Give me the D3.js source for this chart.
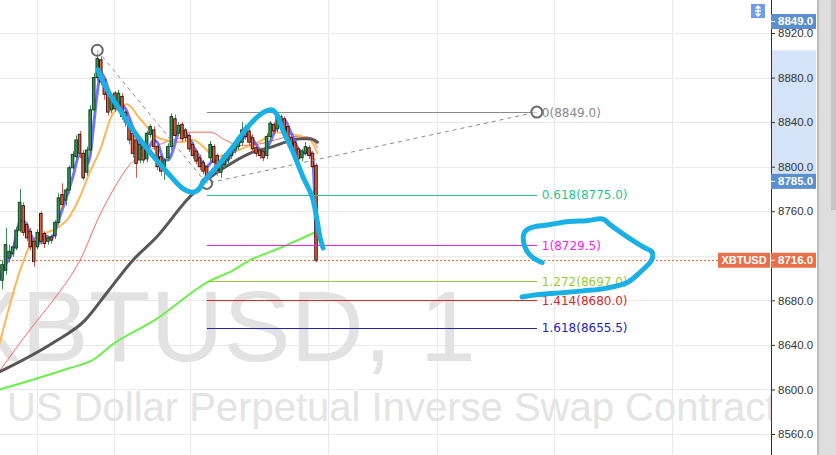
<!DOCTYPE html>
<html>
<head>
<meta charset="utf-8">
<script src="https://cdn.jsdelivr.net/npm/d3@7"></script>
<style>
  html, body { margin: 0; padding: 0; background: #fff; overflow: hidden; }
  svg { display: block; }
</style>
</head>
<body>
<svg id="chart" width="836" height="455"></svg>
<script>
// ---- XBTUSD 1-minute candles: [open, high, low, close] ----
const ohlc = [
  [8698,8716,8690,8712],[8707,8745,8703,8730],[8718,8730,8714,8724],[8722,8732,8719,8728],
  [8727,8746,8725,8743],[8743,8780,8741,8768],[8765,8768,8738,8741],[8748,8750,8733,8736],
  [8742,8745,8725,8728],[8733,8736,8710,8715],[8728,8744,8726,8741],[8758,8760,8730,8733],
  [8740,8742,8727,8731],[8733,8738,8730,8736],[8737,8739,8731,8734],[8738,8752,8735,8750],
  [8750,8776,8748,8772],[8775,8785,8762,8766],[8770,8781,8765,8779],[8779,8801,8776,8799],
  [8799,8814,8797,8811],[8809,8828,8806,8824],[8829,8832,8808,8812],[8812,8815,8788,8790],
  [8795,8818,8792,8815],[8815,8855,8812,8851],[8851,8884,8849,8880],[8880,8904.5,8877,8897],
  [8896,8899,8873,8876],[8878,8880,8860,8865],[8869,8871,8846,8849],[8851,8866,8848,8862],
  [8866,8868,8849,8852],[8854,8869,8851,8866],[8863,8866,8842,8845],[8849,8852,8836,8840],
  [8840,8843,8820,8824],[8830,8833,8808,8812],[8824,8826,8790,8803],[8806,8823,8803,8820],
  [8818,8820,8803,8806],[8807,8832,8804,8830],[8829,8838,8826,8836],[8833,8836,8815,8818],
  [8818,8820,8797,8800],[8809,8812,8792,8796],[8798,8808,8788,8806],[8808,8821,8805,8818],
  [8818,8848,8815,8845],[8843,8847,8825,8828],[8830,8840,8827,8837],[8838,8840,8822,8825],
  [8833,8835,8823,8826],[8828,8830,8813,8816],[8820,8822,8807,8810],[8814,8816,8802,8805],
  [8808,8811,8797,8800],[8804,8806,8793,8796],[8800,8802,8785,8791],[8808,8823,8805,8820],
  [8818,8820,8800,8804],[8810,8812,8792,8797],[8795,8805,8790,8802],[8802,8812,8799,8810],
  [8806,8815,8803,8812],[8810,8818,8807,8816],[8815,8824,8812,8821],[8818,8828,8815,8826],
  [8822,8840,8819,8833],[8835,8838,8824,8827],[8832,8834,8819,8822],[8826,8829,8813,8816],
  [8817,8819,8809,8812],[8815,8817,8807,8810],[8814,8816,8805,8808],[8810,8830,8807,8827],
  [8827,8841,8824,8839],[8838,8840,8829,8832],[8834,8849,8831,8846],[8845,8847,8837,8840],
  [8843,8845,8829,8832],[8836,8838,8819,8822],[8826,8828,8814,8817],[8822,8824,8808,8810],
  [8816,8818,8804,8807],[8808,8816,8805,8814],[8812,8822,8810,8818],[8817,8819,8807,8810],
  [8812,8814,8798,8800],[8801,8803,8714,8716]
];

// ---- moving averages: [bar index, price] ----
const maFast = [[-0.6,8700],[1,8712],[3,8724],[5,8750],[6,8752],[8,8740],[10,8730],[12,8738],[14,8736],
  [16,8752],[18,8770],[20,8790],[22,8810],[23,8808],[24,8802],[25,8810],[26,8838],[27,8866],[28,8884],
  [29,8880],[31,8862],[33,8858],[35,8852],[37,8836],[39,8820],[41,8814],[43,8824],[44,8822],[46,8806],
  [47,8806],[49,8820],[50,8832],[52,8830],[55,8814],[58,8800],[60,8806],[62,8800],[64,8806],[66,8815],
  [68,8825],[70,8828],[72,8820],[74,8812],[76,8822],[78,8836],[80,8842],[82,8830],[84,8816],[86,8812],
  [87,8814],[88,8808],[89,8736]];
const maOrange = [[-0.6,8642],[5.7,8712],[8.8,8734],[15.6,8745],[18.4,8752],[22.1,8773],[24.9,8795],
  [27.8,8815],[31.5,8848],[35.4,8856],[39.1,8843],[44.8,8825],[50.5,8822],[54.1,8824],[60.9,8809],
  [65.5,8813],[69.4,8818],[73.9,8824],[76.8,8831],[82.5,8829],[87.3,8824],[89.4,8812]];
const maRed = [[-0.6,8617],[8.5,8656],[14.5,8680],[22.1,8716],[27.8,8757],[31.5,8779],[36.3,8802],
  [41.1,8813],[46.2,8822],[50.5,8826],[53.3,8831],[59,8831],[63.2,8824],[67.5,8819],[72.3,8820],
  [77.4,8824],[81.6,8827],[85.9,8827],[88.1,8824],[89.4,8817]];
const maGrey = [[-0.6,8616],[14.5,8642],[23.5,8662],[29.8,8687],[37.1,8716],[43.9,8737],[52.4,8770],
  [58.1,8788],[65.5,8804],[71.1,8813],[76.8,8818],[80.8,8822.5],[84.5,8825],[87.3,8825],[89.4,8822]];
const maGreen = [[-0.6,8600],[8.5,8608.5],[19,8619],[25.8,8626.5],[31.2,8640],[43.4,8662.5],
  [58.4,8696.6],[65.5,8707],[70.3,8716],[78.8,8727],[89.4,8742]];

// ---- trend-based fib extension ----
const fibPoints = [[27, 8904.5], [58, 8785.0], [151.6, 8849.0]];
const fibRatios = ["0", "0.618", "1", "1.272", "1.414", "1.618"];
const fibPrices = [8849.0, 8775.0, 8729.5, 8697.0, 8680.0, 8655.5];
const fibColors = ["#8a8a8a", "#1fc88c", "#f41ef4", "#9acd32", "#d62828", "#2424b8"];

// ---- freehand annotations: [bar index, price] ----
const strokeM = [[27.2,8887],[29.8,8869],[33.4,8851],[37.1,8833],[41.9,8813],[46.8,8795],[51,8781],
  [53.9,8777],[55.6,8779],[57,8786],[60.9,8800],[65.5,8818],[70.3,8838],[74,8848.5],[76.5,8851],
  [77.9,8847],[79.6,8833],[82.5,8813],[85.3,8791],[87.9,8773],[89.3,8752],[90.1,8737],[91,8727]];
const strokeLoop = [[153.1,8714],[150.2,8719],[148.2,8728],[148,8740.5],[149.7,8745],[155.3,8748],
  [160.1,8750.5],[165.8,8751.5],[170.4,8753],[172.3,8748],[177.2,8737],[181.7,8728],[184.2,8723.5],
  [184.2,8716.5],[180.8,8705],[177.2,8696],[171.5,8691],[164.7,8688.5],[158.2,8686.7],[151.6,8685],
  [147.4,8683]];

// ---- axes ----
const priceTicks = [8560, 8600, 8640, 8680, 8720, 8760, 8800, 8840, 8880, 8920];
const timeGridBars = [9.9, 31.7, 53.3, 92.4, 123.3, 156.5, 189.9];
const lastPrice = 8716.0;
const symbol = "XBTUSD";
const titleText = "XBTUSD, 1";
const subtitleText = "US Dollar Perpetual Inverse Swap Contract";

const W = 836, H = 455, paneW = 771;
const svg = d3.select("#chart");

const x = d3.scaleLinear().domain([0, ohlc.length - 1]).range([2, 316]);
const y = d3.scaleLinear().domain([8560, 8920]).range([434, 33]);
const step = x(1) - x(0);

svg.append("defs").append("clipPath").attr("id", "pane")
  .append("rect").attr("x", 0).attr("y", 0).attr("width", paneW).attr("height", H);

const pane = svg.append("g").attr("clip-path", "url(#pane)");

// grid
pane.append("g").selectAll("line").data(priceTicks).join("line")
  .attr("x1", 0).attr("x2", paneW)
  .attr("y1", d => Math.round(y(d)) + 0.5).attr("y2", d => Math.round(y(d)) + 0.5)
  .attr("stroke", "#e9e9e9").attr("stroke-width", 1).attr("shape-rendering", "crispEdges");
pane.append("g").selectAll("line").data(timeGridBars).join("line")
  .attr("x1", d => Math.round(x(d)) + 0.5).attr("x2", d => Math.round(x(d)) + 0.5)
  .attr("y1", 0).attr("y2", H)
  .attr("stroke", "#e9e9e9").attr("stroke-width", 1).attr("shape-rendering", "crispEdges");

// watermark
pane.append("text").text(titleText)
  .attr("x", -46).attr("y", 361)
  .attr("font-family", "Liberation Sans, Arial, sans-serif").attr("font-size", 101)
  .attr("fill", "#e2e2e2");
pane.append("text").text(subtitleText)
  .attr("x", 7).attr("y", 421)
  .attr("font-family", "Liberation Sans, Arial, sans-serif").attr("font-size", 40)
  .attr("fill", "#e4e4e4");

// last price dotted line
pane.append("line")
  .attr("x1", 0).attr("x2", paneW)
  .attr("y1", Math.round(y(lastPrice)) + 0.5).attr("y2", Math.round(y(lastPrice)) + 0.5)
  .attr("stroke", "#ef6a3e").attr("stroke-width", 1).attr("stroke-dasharray", "2,2")
  .attr("shape-rendering", "crispEdges");

// moving averages
const line = d3.line().x(d => x(d[0])).y(d => y(d[1])).curve(d3.curveMonotoneX);
function drawMA(data, color, width, opacity) {
  pane.append("path").datum(data).attr("d", line)
    .attr("fill", "none").attr("stroke", color).attr("stroke-width", width)
    .attr("stroke-opacity", opacity).attr("stroke-linejoin", "round").attr("stroke-linecap", "round");
}
drawMA(maGreen, "#6cf04a", 2, 1);
drawMA(maRed, "#ff6464", 1, 1);
drawMA(maOrange, "#ffb75a", 2, 1);
drawMA(maGrey, "#575757", 3, 1);
drawMA(maFast, "#5a5aff", 3, 0.85);

// candles
const bw = step * 0.72;
const cg = pane.append("g");
cg.selectAll("line").data(ohlc).join("line")
  .attr("x1", (d, i) => Math.round(x(i)) + 0.5).attr("x2", (d, i) => Math.round(x(i)) + 0.5)
  .attr("y1", d => y(d[1])).attr("y2", d => y(d[2]))
  .attr("stroke", d => d[3] >= d[0] ? "#3b8f52" : "#d9534f").attr("stroke-width", 1);
cg.selectAll("rect").data(ohlc).join("rect")
  .attr("x", (d, i) => x(i) - bw / 2)
  .attr("y", d => y(Math.max(d[0], d[3])))
  .attr("width", bw)
  .attr("height", d => Math.max(1, Math.abs(y(d[0]) - y(d[3]))))
  .attr("fill", d => d[3] >= d[0] ? "#2f9a5a" : "#e9623c")
  .attr("stroke", d => d[3] >= d[0] ? "#173f24" : "#3a1a12").attr("stroke-width", 1);

// fib levels
const fx1 = x(fibPoints[1][0]), fx2 = x(fibPoints[2][0]);
const fg = pane.append("g");
fg.selectAll("line").data(fibPrices).join("line")
  .attr("x1", fx1).attr("x2", fx2)
  .attr("y1", d => Math.round(y(d)) + 0.5).attr("y2", d => Math.round(y(d)) + 0.5)
  .attr("stroke", (d, i) => fibColors[i]).attr("stroke-width", 1)
  .attr("shape-rendering", "crispEdges");
fg.selectAll("text").data(fibPrices).join("text")
  .attr("x", fx2 + 5).attr("y", d => y(d) + 1)
  .attr("dominant-baseline", "middle")
  .attr("font-family", "DejaVu Sans, Verdana, sans-serif").attr("font-size", 12)
  .attr("fill", (d, i) => fibColors[i])
  .text((d, i) => `${fibRatios[i]}(${d.toFixed(1)})`);

// trend lines between the fib anchor points
pane.append("path").datum(fibPoints).attr("d", d3.line().x(d => x(d[0])).y(d => y(d[1])))
  .attr("fill", "none").attr("stroke", "#8c8c8c").attr("stroke-width", 1)
  .attr("stroke-dasharray", "4,4");
pane.append("g").selectAll("circle").data(fibPoints).join("circle")
  .attr("cx", d => x(d[0])).attr("cy", d => y(d[1])).attr("r", 5.5)
  .attr("fill", "rgba(255,255,255,0.55)").attr("stroke", "#6a6a6a").attr("stroke-width", 2);

// freehand strokes
const free = d3.line().x(d => x(d[0])).y(d => y(d[1])).curve(d3.curveCatmullRom.alpha(0.5));
[strokeM, strokeLoop].forEach(s => {
  pane.append("path").datum(s).attr("d", free)
    .attr("fill", "none").attr("stroke", "#19b0e6").attr("stroke-width", 5)
    .attr("stroke-linecap", "round").attr("stroke-linejoin", "round");
});

// symbol tag on last price
const yl = y(lastPrice);
pane.append("rect").attr("x", 718).attr("y", yl - 7.5).attr("width", 52).attr("height", 15)
  .attr("fill", "#e8704a");
pane.append("text").text(symbol).attr("x", 744).attr("y", yl + 0.5)
  .attr("text-anchor", "middle").attr("dominant-baseline", "middle")
  .attr("font-family", "Liberation Sans, Arial, sans-serif").attr("font-size", 11)
  .attr("font-weight", "bold").attr("fill", "#fff");

// small scale button
const btn = svg.append("g").attr("transform", "translate(751,4)");
btn.append("rect").attr("width", 14).attr("height", 14).attr("fill", "#6f9ee6");
btn.append("path").attr("d", "M7,2 L7,12 M4.5,4.5 L7,2 L9.5,4.5 M4.5,9.5 L7,12 L9.5,9.5 M4,7 L10,7")
  .attr("stroke", "#fff").attr("stroke-width", 1.4).attr("fill", "none");

// ---- price axis ----
const axisG = svg.append("g").attr("transform", `translate(${paneW},0)`);
axisG.append("rect").attr("x", 0).attr("y", 0).attr("width", 46).attr("height", H).attr("fill", "#fff");
// highlighted range of the drawing
axisG.append("rect").attr("x", 1).attr("y", y(fibPoints[0][1]))
  .attr("width", 44).attr("height", y(fibPoints[1][1]) - y(fibPoints[0][1]))
  .attr("fill", "#d4e3f8");
// tick labels that sit under the last-price box are left blank
const fmt = d3.format(".1f");
const axis = d3.axisRight(y).tickValues(priceTicks)
  .tickFormat(d => Math.abs(y(d) - y(lastPrice)) < 10 ? "" : fmt(d))
  .tickSize(4).tickPadding(3);
axisG.call(axis);
axisG.select(".domain").attr("stroke", "#333").attr("d", `M0.5,0V${H}`);
axisG.selectAll(".tick line").attr("stroke", "#333");
axisG.selectAll(".tick text").attr("font-family", "Liberation Sans, Arial, sans-serif")
  .attr("font-size", 11.5).attr("fill", "#333");

function priceBox(cy, label, color) {
  const g = axisG.append("g");
  g.append("rect").attr("x", 0).attr("y", cy - 7.5).attr("width", 45).attr("height", 15).attr("fill", color);
  g.append("line").attr("x1", 0).attr("x2", 4).attr("y1", cy).attr("y2", cy).attr("stroke", "#fff");
  g.append("text").text(label).attr("x", 7).attr("y", cy + 0.5)
    .attr("dominant-baseline", "middle")
    .attr("font-family", "Liberation Sans, Arial, sans-serif").attr("font-size", 11.5)
    .attr("font-weight", "bold").attr("fill", "#fff");
}
priceBox(21.5, fibPrices[0].toFixed(1), "#5b8fcf");
priceBox(y(fibPoints[1][1]) - 2, fibPoints[1][1].toFixed(1), "#5b8fcf");
priceBox(yl, lastPrice.toFixed(1), "#e8704a");

// scrollbar strip
svg.append("rect").attr("x", 817).attr("y", 0).attr("width", 2).attr("height", H).attr("fill", "#bdbdbd");
svg.append("rect").attr("x", 819).attr("y", 0).attr("width", 17).attr("height", H).attr("fill", "#dedede");
svg.append("rect").attr("x", 831).attr("y", 0).attr("width", 5).attr("height", 210).attr("fill", "#c6c6c6");
</script>
</body>
</html>
